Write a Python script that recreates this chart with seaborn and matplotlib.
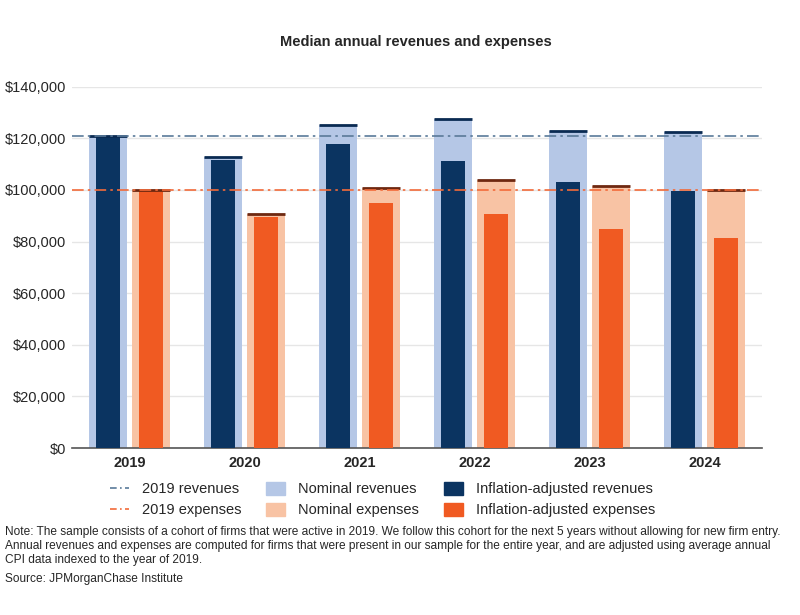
import matplotlib
matplotlib.use("Agg")
import matplotlib.pyplot as plt
from matplotlib.lines import Line2D
from matplotlib.patches import Patch
import seaborn as sns
import pandas as pd

years = ["2019", "2020", "2021", "2022", "2023", "2024"]
nominal_revenues = [121000, 112900, 125000, 127500, 122800, 122500]
adjusted_revenues = [120800, 111500, 117700, 111300, 103000, 99700]
nominal_expenses = [100000, 90600, 100800, 103900, 101400, 99900]
adjusted_expenses = [99700, 89400, 95000, 90800, 84900, 81300]
ref_revenues = 120800
ref_expenses = 100000

C_NOM_REV = "#b5c7e6"
C_ADJ_REV = "#0b3461"
C_NOM_EXP = "#f8c3a4"
C_ADJ_EXP = "#f05a22"
C_CAP_REV = "#0a2a52"
C_CAP_EXP = "#6e2810"
C_LINE_REV = "#5a7a99"
C_LINE_EXP = "#f26b3a"

sns.set_style("white")
plt.rcParams["font.family"] = ["Liberation Sans", "DejaVu Sans"]

df = pd.DataFrame({
    "year": years * 2,
    "kind": ["Revenues"] * 6 + ["Expenses"] * 6,
    "nominal": nominal_revenues + nominal_expenses,
    "adjusted": adjusted_revenues + adjusted_expenses,
})

fig = plt.figure(figsize=(8, 6.15), dpi=100)
ax = fig.add_axes([0.09, 0.2715, 0.8625, 0.5875])

sns.barplot(data=df, x="year", y="nominal", hue="kind", hue_order=["Revenues", "Expenses"],
            palette=[C_NOM_REV, C_NOM_EXP], width=0.76, gap=0.13, saturation=1,
            linewidth=0, legend=False, ax=ax, zorder=2)
nominal_bars = list(ax.patches)
# dark cap on top of each nominal bar
for i, p in enumerate(nominal_bars):
    cap = C_CAP_REV if i < len(years) else C_CAP_EXP
    ax.plot([p.get_x(), p.get_x() + p.get_width()], [p.get_height()] * 2,
            color=cap, lw=2.0, solid_capstyle="butt", zorder=4)

sns.barplot(data=df, x="year", y="adjusted", hue="kind", hue_order=["Revenues", "Expenses"],
            palette=[C_ADJ_REV, C_ADJ_EXP], width=0.76, gap=0.45, saturation=1,
            linewidth=0, legend=False, ax=ax, zorder=3)

dash = (7, 2.5, 1.5, 2.5)
ax.axhline(ref_revenues, color=C_LINE_REV, lw=1.2, dashes=dash, zorder=5)
ax.axhline(ref_expenses, color=C_LINE_EXP, lw=1.2, dashes=dash, zorder=5)

ax.set_ylim(0, 140000)
ax.set_xlim(-0.5, len(years) - 0.5)
ax.set_yticks(range(0, 140001, 20000))
ax.set_yticklabels([f"${v:,}" for v in range(0, 140001, 20000)], fontsize=10.5)
ax.yaxis.grid(True, color="#e6e6e6", lw=1)
ax.set_axisbelow(True)
ax.set_xlabel("")
ax.set_ylabel("")
for s in ["top", "right", "left"]:
    ax.spines[s].set_visible(False)
ax.spines["bottom"].set_color("#555555")
ax.spines["bottom"].set_linewidth(1.2)
ax.set_xticks([i + 0.5 for i in range(-1, len(years))], minor=True)
ax.tick_params(axis="x", which="minor", length=14, width=1, color="#777777")
ax.tick_params(axis="x", which="major", length=0, pad=6)
ax.tick_params(axis="y", length=0, pad=4)
for lab in ax.get_xticklabels():
    lab.set_fontweight("bold")
    lab.set_fontsize(10.5)

fig.text(0.52, 0.932, "Median annual revenues and expenses", ha="center", va="center",
         fontsize=10.5, fontweight="bold")

handles = [
    Line2D([], [], color=C_LINE_REV, lw=1.2, dashes=(4, 2, 1, 2)),
    Line2D([], [], color=C_LINE_EXP, lw=1.2, dashes=(4, 2, 1, 2)),
    Patch(color=C_NOM_REV), Patch(color=C_NOM_EXP),
    Patch(color=C_ADJ_REV), Patch(color=C_ADJ_EXP),
]
labels = ["2019 revenues", "2019 expenses", "Nominal revenues", "Nominal expenses",
          "Inflation-adjusted revenues", "Inflation-adjusted expenses"]
fig.legend(handles, labels, ncol=3, loc="upper center", bbox_to_anchor=(0.478, 0.238),
           frameon=False, fontsize=10.5, handlelength=1.3, handleheight=1.0,
           columnspacing=1.7, labelspacing=0.45, handletextpad=0.9)

note = ("Note: The sample consists of a cohort of firms that were active in 2019. We follow this cohort "
        "for the next 5 years without allowing for new firm entry.\n"
        "Annual revenues and expenses are computed for firms that were present in our sample for the "
        "entire year, and are adjusted using average annual\n"
        "CPI data indexed to the year of 2019.")
fig.text(0.006, 0.145, note, ha="left", va="top", fontsize=8.6, linespacing=1.25)
fig.text(0.006, 0.068, "Source: JPMorganChase Institute", ha="left", va="top", fontsize=8.6)

fig.savefig("out.png", dpi=100)
